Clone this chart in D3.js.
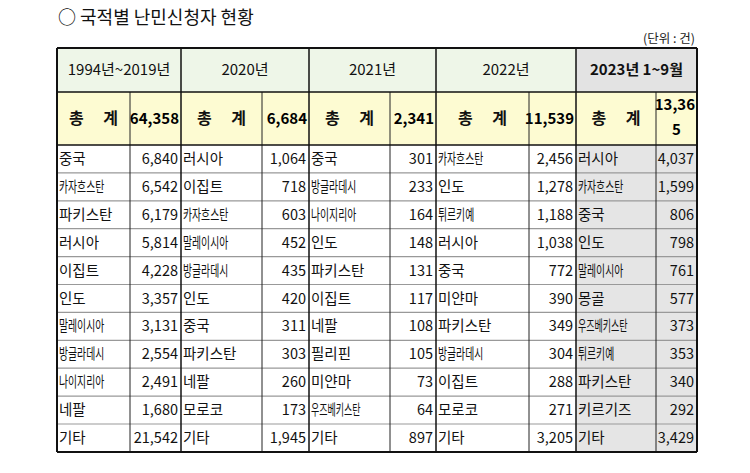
<!DOCTYPE html><html><head><meta charset="utf-8"><script src="https://cdn.jsdelivr.net/npm/d3@7"></script>
<style>body{margin:0;background:#fff}</style></head><body><svg id="c" width="750" height="473"></svg><script>
const periods=["1994년~2019년","2020년","2021년","2022년","2023년 1~9월"];
const totals=["64,358","6,684","2,341","11,539","13,365"];
const names=[
["중국","카자흐스탄","파키스탄","러시아","이집트","인도","말레이시아","방글라데시","나이지리아","네팔","기타"],
["러시아","이집트","카자흐스탄","말레이시아","방글라데시","인도","중국","파키스탄","네팔","모로코","기타"],
["중국","방글라데시","나이지리아","인도","파키스탄","이집트","네팔","필리핀","미얀마","우즈베키스탄","기타"],
["카자흐스탄","인도","튀르키예","러시아","중국","미얀마","파키스탄","방글라데시","이집트","모로코","기타"],
["러시아","카자흐스탄","중국","인도","말레이시아","몽골","우즈베키스탄","튀르키예","파키스탄","키르기즈","기타"]];
const values=[
[6840,6542,6179,5814,4228,3357,3131,2554,2491,1680,21542],
[1064,718,603,452,435,420,311,303,260,173,1945],
[301,233,164,148,131,117,108,105,73,64,897],
[2456,1278,1188,1038,772,390,349,304,288,271,3205],
[4037,1599,806,798,761,577,373,353,340,292,3429]];
const svg=d3.select("#c"),F="'Noto Sans CJK KR','Noto Sans',sans-serif";
const xb=[57,130,181,262,309,390,436,529,576,656,697];
const yH=48,yT=92,yD=145,rowH=27.9;
const y=d3.scaleLinear().domain([0,11]).range([yD,yD+11*rowH]);
svg.append("text").attr("x",58).attr("y",24).attr("font-family",F).attr("font-size",18).attr("fill","#111").text("○ 국적별 난민신청자 현황");
svg.append("text").attr("x",695).attr("y",43).attr("text-anchor","end").attr("font-family",F).attr("font-size",12.5).attr("fill","#222").text("(단위 : 건)");
periods.forEach((p,i)=>{
 const x0=xb[2*i],x1=xb[2*i+1],x2=xb[2*i+2],last=i==4;
 svg.append("rect").attr("x",x0).attr("y",yH).attr("width",x2-x0).attr("height",yT-yH).attr("fill",last?"#e3e3e3":"#eef6e8");
 svg.append("text").attr("x",(x0+x2)/2).attr("y",yH+27).attr("text-anchor","middle").attr("font-family",F).attr("font-size",15).attr("font-weight",last?"bold":"normal").attr("fill","#111").text(p);
 svg.append("rect").attr("x",x0).attr("y",yT).attr("width",x2-x0).attr("height",yD-yT).attr("fill","#fdfbd2");
 svg.append("text").attr("x",(x0+x1)/2).attr("y",yT+32).attr("text-anchor","middle").attr("font-family",F).attr("font-size",16).attr("font-weight","bold").attr("fill","#111").text("총 계").attr("letter-spacing",8).attr("dx",4);
 const t=totals[i];
 if(last){
  svg.append("text").attr("x",x2-2).attr("y",yT+18).attr("text-anchor","end").attr("font-family",F).attr("font-size",15).attr("font-weight","bold").text(t.slice(0,5));
  svg.append("text").attr("x",(x1+x2)/2).attr("y",yT+43).attr("text-anchor","middle").attr("font-family",F).attr("font-size",15).attr("font-weight","bold").text(t.slice(5));
 } else svg.append("text").attr("x",x2-2).attr("y",yT+32).attr("text-anchor","end").attr("font-family",F).attr("font-size",15).attr("font-weight","bold").text(t);
 if(last) svg.append("rect").attr("x",x0).attr("y",yD).attr("width",x2-x0).attr("height",11*rowH).attr("fill","#e5e5e5");
 names[i].forEach((n,r)=>{
  const sq=n.length>=5||n=="튀르키예";
  const sx=sq?(n.length>=6?0.62:0.68):1;
  svg.append("text").attr("transform",`translate(${x0+2},${y(r)+19}) scale(${sx},1)`).attr("font-family",F).attr("font-size",14.5).attr("fill","#111").text(n);
  svg.append("text").attr("x",x2-3).attr("y",y(r)+19).attr("text-anchor","end").attr("font-family",F).attr("font-size",14.5).attr("fill","#111").text(d3.format(",")(values[i][r]));
 });
});
for(let r=1;r<11;r++) svg.append("line").attr("x1",57).attr("x2",697).attr("y1",y(r)).attr("y2",y(r)).attr("stroke","#999").attr("stroke-width",1.2);
xb.forEach((x,k)=>{
 if(k%2==1) svg.append("line").attr("x1",x).attr("x2",x).attr("y1",yT).attr("y2",y(11)).attr("stroke","#222").attr("stroke-width",1);
 else svg.append("line").attr("x1",x).attr("x2",x).attr("y1",yH).attr("y2",y(11)).attr("stroke","#111").attr("stroke-width",k==0||k==10?2:1.5);
});
[yH,yT,yD,y(11)].forEach((yy,k)=>svg.append("line").attr("x1",57).attr("x2",697).attr("y1",yy).attr("y2",yy).attr("stroke","#111").attr("stroke-width",k==0||k==3?2:1.5));
</script></body></html>
